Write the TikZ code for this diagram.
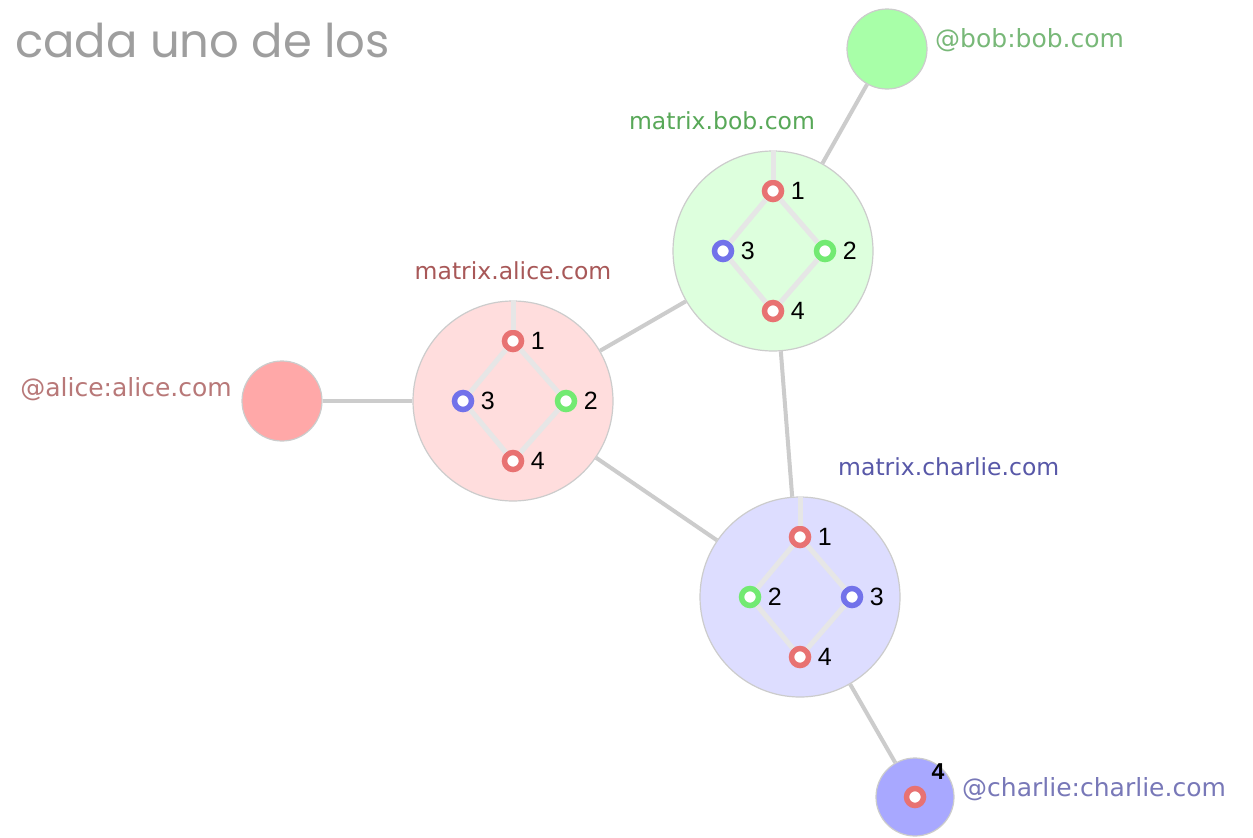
\documentclass[tikz,border=0pt]{standalone}
\usepackage{fontspec}
\setmainfont{DejaVu Sans}
\newfontfamily\titlefont{Poppins}
\newfontfamily\numfont{Liberation Sans}
\definecolor{edgegray}{HTML}{CCCCCC}
\definecolor{inedge}{HTML}{E6E6E6}
\definecolor{ringred}{HTML}{E87272}
\definecolor{ringgreen}{HTML}{72EA72}
\definecolor{ringblue}{HTML}{7272EA}
\definecolor{afill}{HTML}{FFDDDD}
\definecolor{bfill}{HTML}{DDFFDD}
\definecolor{cfill}{HTML}{DDDDFF}
\definecolor{aufill}{HTML}{FFA8A8}
\definecolor{bufill}{HTML}{A8FFA8}
\definecolor{cufill}{HTML}{A8A8FF}
\definecolor{atext}{HTML}{A85858}
\definecolor{btext}{HTML}{58A858}
\definecolor{ctext}{HTML}{5858A8}
\definecolor{autext}{HTML}{B87878}
\definecolor{butext}{HTML}{78B878}
\definecolor{cutext}{HTML}{7878B8}
\tikzset{
  server/.style={circle, draw=edgegray, line width=1.2pt, minimum size=200pt, inner sep=0pt},
  usernode/.style={circle, draw=edgegray, line width=1.2pt, minimum size=80pt, inner sep=0pt},
  ring/.style={circle, draw=#1, line width=5.5pt, fill=white, minimum size=17pt, inner sep=0pt},
  numlab/.style={font=\numfont\fontsize{25}{25}\selectfont, text=black, label distance=3pt},
  link/.style={draw=edgegray, line width=4pt},
  inlink/.style={draw=inedge, line width=5pt},
  lab/.style={font=\fontsize{23.5}{23.5}\selectfont},
  ulab/.style={font=\fontsize{25}{25}\selectfont, anchor=west, inner sep=0pt},
}
\begin{document}
\begin{tikzpicture}[x=1pt,y=-1pt]
\useasboundingbox (0,0) rectangle (1253,838);
\fill[white] (0,0) rectangle (1253,838);
\node[anchor=base west, text=black!38, font=\titlefont\fontsize{46.5}{46.5}\selectfont, inner sep=0pt] (title) at (15,57) {cada uno de los};

% servers
\node[server, fill=afill] (as) at (513,401) {};
\node[server, fill=bfill] (bs) at (773,251) {};
\node[server, fill=cfill] (cs) at (800,597) {};
% users
\node[usernode, fill=aufill] (au) at (282,401) {};
\node[usernode, fill=bufill] (bu) at (887,49) {};
\node[usernode, fill=cufill, minimum size=78pt] (cu) at (915,797) {};

% labels
\node[lab, text=atext] (asl) at (513,271) {matrix.alice.com};
\node[lab, text=btext] (bsl) at (722,121) {matrix.bob.com};
\node[lab, text=ctext, anchor=west, inner sep=0pt] (csl) at (838,467) {matrix.charlie.com};
\node[ulab, text=autext, anchor=east] (aul) at (232,389) {@alice:alice.com};
\node[ulab, text=butext] (bul) at (935,40) {@bob:bob.com};
\node[ulab, text=cutext] (cul) at (962,789) {@charlie:charlie.com};

% alice inner
\node[ring=ringred, label={[numlab]right:1}] (a1) at (513,341) {};
\node[ring=ringgreen, label={[numlab]right:2}] (a2) at (566,401) {};
\node[ring=ringblue, label={[numlab]right:3}] (a3) at (463,401) {};
\node[ring=ringred, label={[numlab]right:4}] (a4) at (513,461) {};
% bob inner
\node[ring=ringred, label={[numlab]right:1}] (b1) at (773,191) {};
\node[ring=ringgreen, label={[numlab]right:2}] (b2) at (825,251) {};
\node[ring=ringblue, label={[numlab]right:3}] (b3) at (723,251) {};
\node[ring=ringred, label={[numlab]right:4}] (b4) at (773,311) {};
% charlie inner
\node[ring=ringred, label={[numlab]right:1}] (c1) at (800,537) {};
\node[ring=ringgreen, label={[numlab]right:2}] (c2) at (750,597) {};
\node[ring=ringblue, label={[numlab]right:3}] (c3) at (852,597) {};
\node[ring=ringred, label={[numlab]right:4}] (c4) at (800,657) {};
% charlie user inner
\node[ring=ringred] (cu4) at (915,797) {};
\node[font=\numfont\bfseries\fontsize{23}{23}\selectfont, text=black] (cu4l) at (938,772) {4};

% inner links
\draw[inlink] (as.north) -- (a1);
\draw[inlink] (a1) -- (a2) -- (a4) -- (a3) -- (a1);
\draw[inlink] (bs.north) -- (b1);
\draw[inlink] (b1) -- (b2) -- (b4) -- (b3) -- (b1);
\draw[inlink] (cs.north) -- (c1);
\draw[inlink] (c1) -- (c2) -- (c4) -- (c3) -- (c1);

% outer links
\draw[link] (au) -- (as);
\draw[link] (as) -- (bs);
\draw[link] (as) -- (cs);
\draw[link] (bs) -- (cs);
\draw[link] (bu) -- (bs);
\draw[link] (cs) -- (cu);
\end{tikzpicture}
\end{document}
